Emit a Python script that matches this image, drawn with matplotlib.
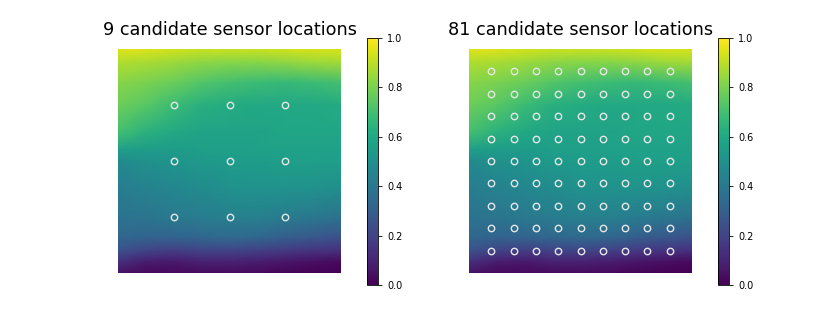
import numpy as np
import matplotlib
matplotlib.use("Agg")
import matplotlib.pyplot as plt

# Field values (value at x columns, for each y row)
field_x = [0.0, 0.125, 0.25, 0.375, 0.5, 0.625, 0.75, 0.875, 1.0]
field_y = [1.00, 0.94, 0.85, 0.75, 0.63, 0.55, 0.50, 0.375, 0.25, 0.16, 0.10, 0.05, 0.00]
field = [
    [0.95, 0.95, 0.93, 0.92, 0.92, 0.92, 0.93, 0.94, 0.94],
    [0.88, 0.87, 0.85, 0.83, 0.82, 0.82, 0.83, 0.85, 0.86],
    [0.82, 0.80, 0.77, 0.73, 0.70, 0.68, 0.67, 0.68, 0.70],
    [0.78, 0.74, 0.68, 0.63, 0.61, 0.60, 0.60, 0.60, 0.61],
    [0.70, 0.64, 0.60, 0.58, 0.58, 0.58, 0.59, 0.59, 0.59],
    [0.56, 0.55, 0.55, 0.56, 0.56, 0.57, 0.57, 0.57, 0.57],
    [0.48, 0.50, 0.52, 0.54, 0.55, 0.55, 0.56, 0.56, 0.56],
    [0.42, 0.44, 0.46, 0.48, 0.50, 0.51, 0.51, 0.50, 0.49],
    [0.38, 0.39, 0.41, 0.42, 0.43, 0.43, 0.42, 0.40, 0.38],
    [0.33, 0.32, 0.32, 0.33, 0.34, 0.33, 0.30, 0.27, 0.25],
    [0.25, 0.20, 0.18, 0.20, 0.20, 0.19, 0.17, 0.15, 0.14],
    [0.14, 0.08, 0.07, 0.09, 0.09, 0.08, 0.06, 0.04, 0.03],
    [0.05, 0.02, 0.02, 0.03, 0.03, 0.02, 0.01, 0.00, 0.00],
]

sensors_9 = [0.25, 0.5, 0.75]
sensors_81 = [0.1, 0.2, 0.3, 0.4, 0.5, 0.6, 0.7, 0.8, 0.9]
titles = ["9 candidate sensor locations", "81 candidate sensor locations"]
cbar_ticks = [0.0, 0.2, 0.4, 0.6, 0.8, 1.0]

fig = plt.figure(figsize=(8.3, 3.2), dpi=100)
ax_rects = [[118/830, 47/320, 223/830, 224/320], [469/830, 47/320, 223/830, 224/320]]
cax_rects = [[367/830, 35/320, 11/830, 247/320], [718/830, 35/320, 11/830, 247/320]]

for i, grid in enumerate([sensors_9, sensors_81]):
    ax = fig.add_axes(ax_rects[i])
    FX, FY = np.meshgrid(field_x, field_y)
    im = ax.pcolormesh(FX, FY, np.array(field), cmap="viridis", vmin=0, vmax=1,
                       shading="gouraud", rasterized=True)
    X, Y = np.meshgrid(grid, grid)
    ax.plot(X.ravel(), Y.ravel(), linestyle="none", marker="o", markersize=4.6,
            markerfacecolor="none", markeredgecolor="#e6e6e6", markeredgewidth=1)
    ax.set_xlim(0, 1)
    ax.set_ylim(0, 1)
    ax.axis("off")
    ax.set_title(titles[i], fontsize=12.7, pad=10)
    cax = fig.add_axes(cax_rects[i])
    cb = fig.colorbar(im, cax=cax, ticks=cbar_ticks)
    cb.ax.tick_params(labelsize=7, length=3, width=0.6)
    cb.outline.set_linewidth(0.6)
    cb.ax.set_yticklabels([f"{t:.1f}" for t in cbar_ticks])

fig.savefig("out.png", dpi=100)
